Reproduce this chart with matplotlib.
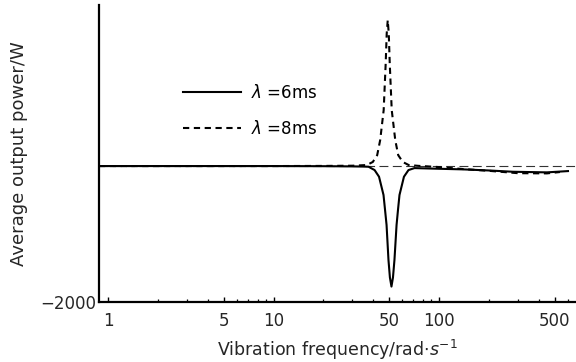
import matplotlib
matplotlib.use("Agg")
import matplotlib.pyplot as plt
from matplotlib.ticker import FixedLocator, NullFormatter, FixedFormatter

plt.rcParams['font.family'] = ['DejaVu Sans']
plt.rcParams['mathtext.fontset'] = 'dejavusans'

# lambda = 6 ms (solid)
f_6ms = [0.88, 10, 20, 30, 34, 37.5, 40.8, 43.4, 46.2, 47.2, 48.2, 49.5, 50.5, 51.6,
         52.7, 53.8, 55.4, 56.5, 57.7, 61.4, 65.4, 71.1, 100, 139.7, 200, 280, 449, 602]
p_6ms = [0, 0, -2, -5, -7, -10, -59, -157, -426, -647, -867, -1382, -1640, -1774,
         -1640, -1382, -867, -647, -426, -157, -59, -30, -40, -49, -65, -84, -93, -74]

# lambda = 8 ms (dashed)
f_8ms = [0.88, 10, 20, 30, 36.6, 39.8, 42.3, 44.1, 46.3, 47.6, 48.3, 49.0, 49.7, 50.4, 51.8,
         54.4, 56.7, 60.4, 65.6, 75, 100, 139.7, 200, 300, 449, 538]
p_8ms = [0, 0, 2, 5, 15, 60, 160, 382, 823, 1500, 1950, 2147, 1950, 1500, 823,
         382, 160, 60, 15, 3, -15, -44, -70, -105, -108, -88]

major_ticks = [1, 5, 10, 50, 100, 500]
minor_ticks = [2, 3, 4, 6, 7, 8, 9, 20, 30, 40, 60, 70, 80, 90, 200, 300, 400, 600]

text_color = '#262626'

fig = plt.figure(figsize=(5.76, 3.62), dpi=100)
ax = fig.add_axes([0.172, 0.166, 0.828, 0.820])

ax.axhline(0, color='#333333', lw=0.8, ls=(0, (8, 4)), zorder=1)
ax.plot(f_6ms, p_6ms, color='black', lw=1.5, label=r'$\lambda$ =6ms', zorder=3)
ax.plot(f_8ms, p_8ms, color='black', lw=1.5, ls=(0, (3, 2.2)), label=r'$\lambda$ =8ms', zorder=2)

ax.set_xscale('log')
ax.set_xlim(0.882, 673)
ax.set_ylim(-2000, 2370)

ax.xaxis.set_major_locator(FixedLocator(major_ticks))
ax.xaxis.set_major_formatter(FixedFormatter([str(t) for t in major_ticks]))
ax.xaxis.set_minor_locator(FixedLocator(minor_ticks))
ax.xaxis.set_minor_formatter(NullFormatter())
ax.set_yticks([-2000])
ax.set_yticklabels(['\u22122000'])

ax.tick_params(axis='x', which='major', direction='in', length=3.5, width=1, labelsize=12,
               labelcolor=text_color, pad=7)
ax.tick_params(axis='x', which='minor', direction='in', length=2.2, width=0.9)
ax.tick_params(axis='y', direction='in', length=0, labelsize=12, labelcolor=text_color, pad=2)

for side in ['top', 'right']:
    ax.spines[side].set_visible(False)
for side in ['left', 'bottom']:
    ax.spines[side].set_linewidth(1.6)

ax.set_xlabel(r'Vibration frequency/rad$\cdot$$s^{-1}$', fontsize=12.5, color=text_color, labelpad=6)
ax.set_ylabel('Average output power/W', fontsize=13, color=text_color, labelpad=9)

ax.legend(loc='upper left', bbox_to_anchor=(0.176, 0.735), frameon=False, fontsize=12,
          handlelength=3.5, handletextpad=0.6, labelspacing=1.1, borderpad=0, borderaxespad=0)

fig.savefig('out.png', dpi=100)
